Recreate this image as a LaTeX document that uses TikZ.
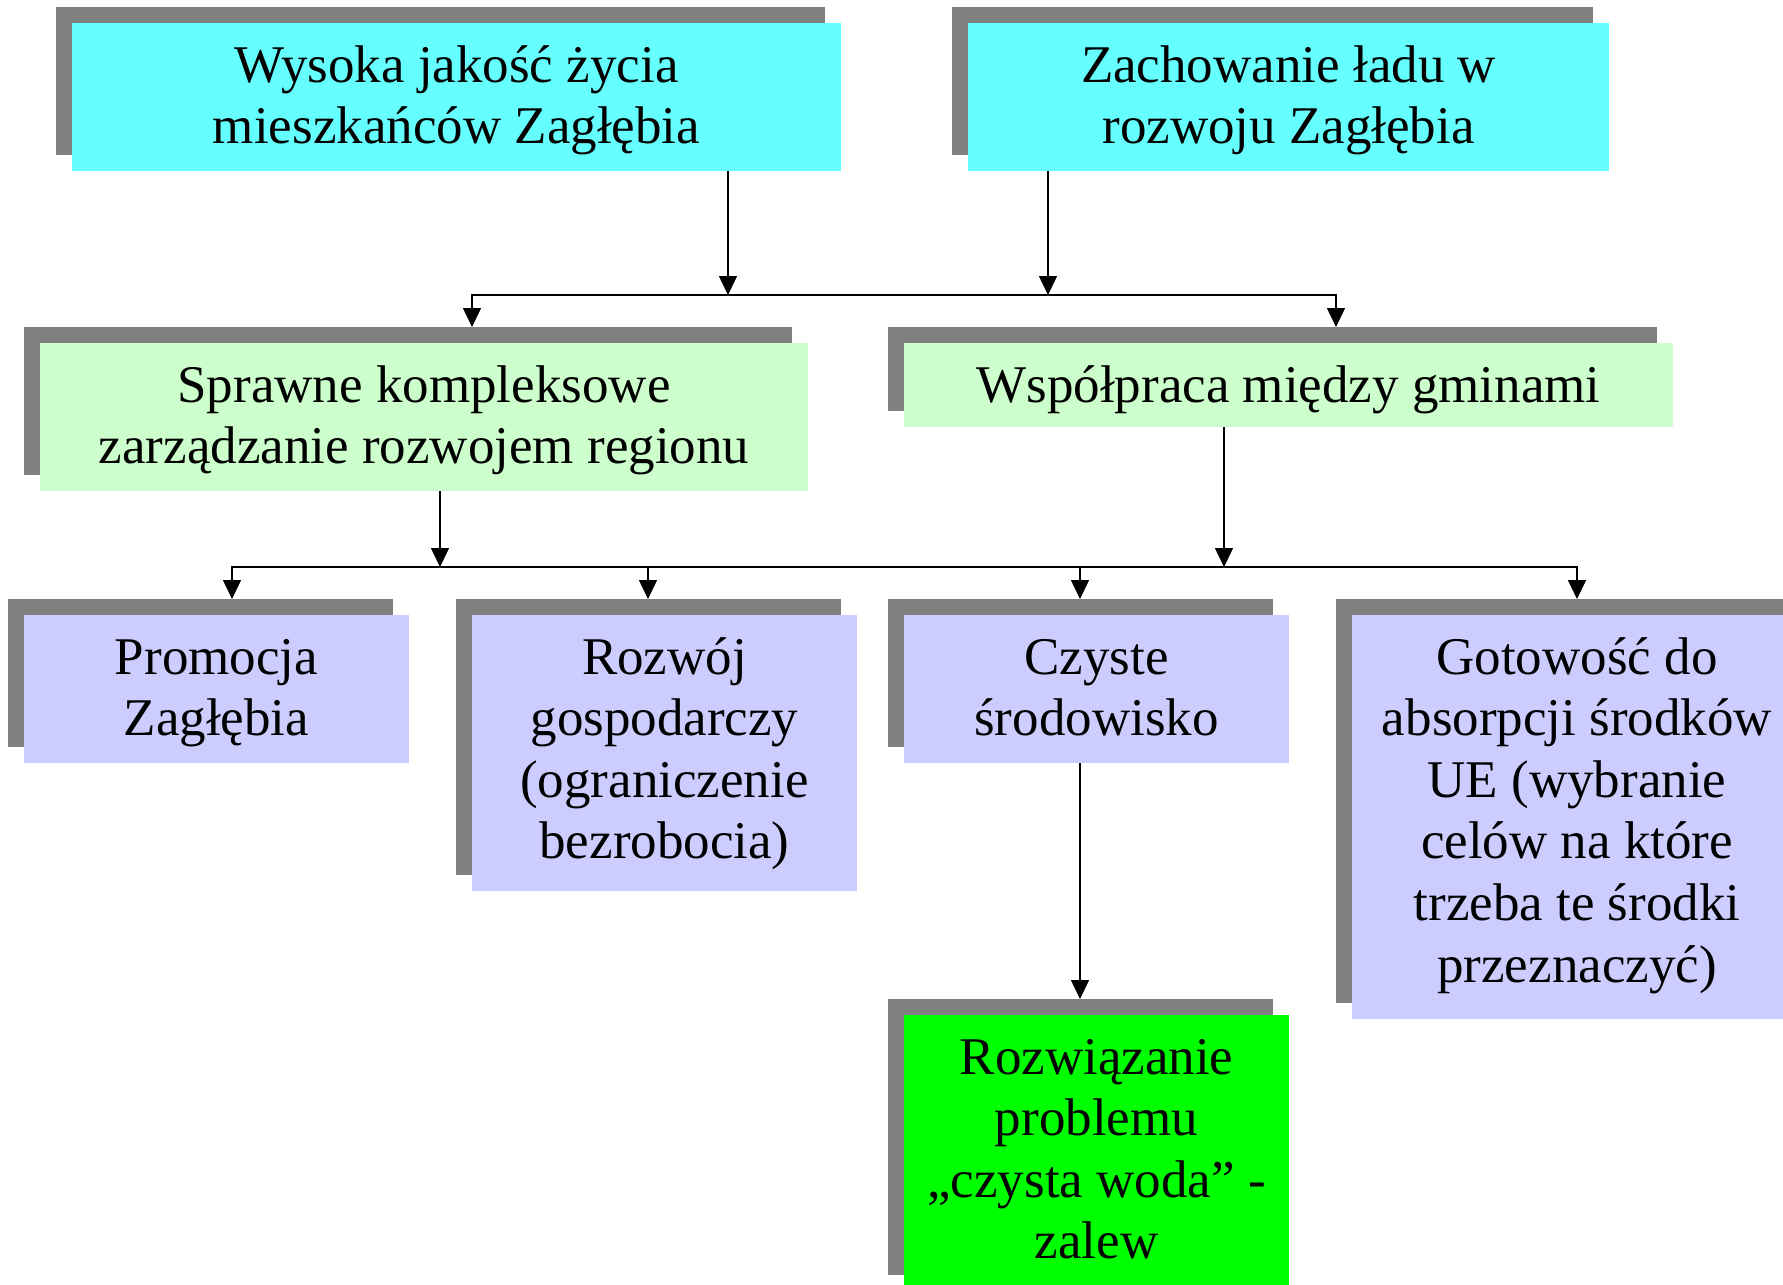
\documentclass[tikz,border=0pt]{standalone}
\usepackage{fontspec}
\setmainfont{Liberation Serif}
\usetikzlibrary{shadows,calc,arrows.meta}
\definecolor{shadowgray}{HTML}{808080}
\definecolor{cyanbox}{HTML}{66FFFF}
\definecolor{greenlight}{HTML}{CCFFCC}
\definecolor{lavender}{HTML}{CCCCFF}
\definecolor{greenbright}{HTML}{00FF00}
% box text: width, height, text (top aligned, first baseline 29.5pt below top)
\newcommand\btext[3]{\parbox[c][#2][t]{#1}{\centering\rule{0pt}{29.5pt}#3}}
\tikzset{
  box/.style={rectangle, inner sep=0pt, outer sep=0pt, anchor=north west,
    font=\fontsize{26.5pt}{30.8pt}\selectfont,
    drop shadow={shadow xshift=-8pt, shadow yshift=8pt, fill=shadowgray, opacity=1}},
  arr/.style={line width=0.8pt, -{Triangle[length=9.5pt,width=9pt]}},
}
\begin{document}
\begin{tikzpicture}[x=0.5pt, y=-0.5pt]
\useasboundingbox (0,0) rectangle (1783,1285);
\clip (0,0) rectangle (1783,1285);
\fill[white] (0,0) rectangle (1783,1285);
% level 1
\node[box, fill=cyanbox] (a) at (72,23)
  {\btext{384.5pt}{74pt}{Wysoka jakość życia\\mieszkańców Zagłębia}};
\node[box, fill=cyanbox] (b) at (968,23)
  {\btext{320.5pt}{74pt}{Zachowanie ładu w\\rozwoju Zagłębia}};
% level 2
\node[box, fill=greenlight] (c) at (40,343)
  {\btext{384pt}{74pt}{Sprawne kompleksowe\\zarządzanie rozwojem regionu}};
\node[box, fill=greenlight] (d) at (904,343)
  {\btext{384.5pt}{42pt}{Współpraca między gminami}};
% level 3
\node[box, fill=lavender] (e) at (24,615)
  {\btext{192.5pt}{74pt}{Promocja\\Zagłębia}};
\node[box, fill=lavender] (f) at (472,615)
  {\btext{192.5pt}{138pt}{Rozwój\\gospodarczy\\(ograniczenie\\bezrobocia)}};
\node[box, fill=lavender] (g) at (904,615)
  {\btext{192.5pt}{74pt}{Czyste\\środowisko}};
\node[box, fill=lavender] (h) at (1352,615)
  {\btext{225pt}{202pt}{Gotowość do\\absorpcji środków\\UE (wybranie\\celów na które\\trzeba te środki\\przeznaczyć)}};
% level 4
\node[box, fill=greenbright] (i) at (904,1015)
  {\btext{192.5pt}{138pt}{Rozwiązanie\\problemu\\„czysta woda” -\\zalew}};
% junctions
\coordinate (j1) at (728,295);
\coordinate (j2) at (1048,295);
\coordinate (jl) at (472,295);
\coordinate (jr) at (1336,295);
\coordinate (k1) at (440,567);
\coordinate (k2) at (1224,567);
\coordinate (te) at (232,567);
\coordinate (tf) at (648,567);
\coordinate (tg) at (1080,567);
\coordinate (th) at (1577,567);
% connectors
\draw[arr] (a.south -| j1) -- (j1);
\draw[arr] (b.south -| j2) -- (j2);
\draw[arr] (j1) -| ($(jl |- c.north)+(0,8pt)$);
\draw[arr] (j1) -| ($(jr |- d.north)+(0,8pt)$);
\draw[arr] (c.south -| k1) -- (k1);
\draw[arr] (d.south -| k2) -- (k2);
\draw[arr] (k1) -| ($(te |- e.north)+(0,8pt)$);
\draw[arr] (k1) -| ($(tf |- f.north)+(0,8pt)$);
\draw[arr] (k2) -| ($(tg |- g.north)+(0,8pt)$);
\draw[arr] (k2) -| ($(th |- h.north)+(0,8pt)$);
\draw[line width=0.8pt] (k1) -- (k2);
\draw[arr] (g.south -| tg) -- ($(tg |- i.north)+(0,8pt)$);
\end{tikzpicture}
\end{document}
